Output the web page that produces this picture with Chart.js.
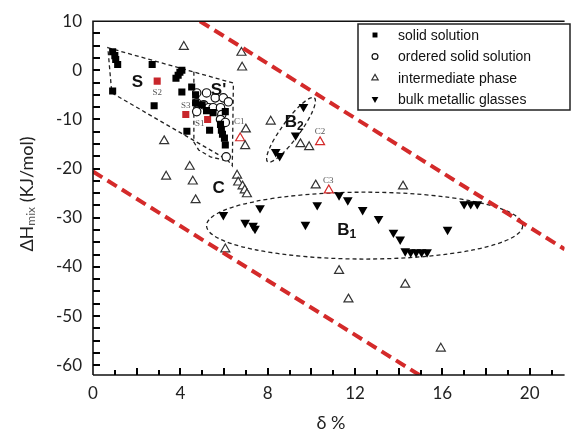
<!DOCTYPE html>
<html>
<head>
<meta charset="utf-8">
<script src="https://cdn.jsdelivr.net/npm/chart.js@4"></script>
<style>
  html, body { margin: 0; padding: 0; background: #fff; }
  #wrap { width: 571px; height: 437px; position: relative; }
</style>
</head>
<body>
<div id="wrap"><canvas id="chart"></canvas></div>
<script>
// values: [delta %, dH mix]
const solidSolution = [
  [0.90, 3.8], [1.0, 3.0], [1.04, 2.2], [1.13, 1.2], [0.90, -4.2], [2.71, 1.2], [2.8, -7.2],
  [3.8, -1.6], [3.9, -1.0], [3.98, -0.4], [4.07, 0], [4.52, -3.4], [4.07, -4.4], [4.7, -5.0],
  [4.7, -6.6], [5.0, -7.0], [5.2, -8.2], [5.5, -8.6], [6.06, -8.4], [4.3, -12.4], [5.34, -12.2],
  [5.84, -11], [5.88, -12.2], [5.93, -13], [6.02, -13.8], [6.06, -15.2]
];
const solidRed = [[2.94, -2.2], [4.25, -9], [5.25, -10]];
const orderedSolid = [
  [4.75, -4.6], [5.2, -4.6], [5.6, -5.6], [5.97, -5.6], [6.2, -6.4], [4.75, -6.6], [5.07, -7],
  [4.75, -8.4], [5.3, -7.6], [5.5, -7.6], [5.84, -7.6], [5.9, -9], [5.84, -10], [6.06, -10.6],
  [6.1, -17.6]
];
const intermediate = [
  [4.16, 4.8], [6.8, 3.6], [6.83, 0.6], [3.26, -14.4], [8.14, -10.4], [7.0, -12], [6.97, -15.4],
  [4.43, -19.6], [3.35, -21.6], [4.57, -22.6], [4.7, -26.4], [6.6, -21.4], [6.65, -22.8],
  [6.85, -23.6], [6.95, -24.4], [7.05, -25.2], [9.5, -15], [9.9, -15.6], [10.2, -23.4],
  [14.2, -23.6], [6.06, -36.4], [11.27, -40.8], [14.3, -43.6], [11.7, -46.6], [15.93, -56.6]
];
const intermediateRed = [[6.74, -13.8], [10.4, -14.6], [10.8, -24.4]];
const metallicGlass = [
  [9.64, -7.4], [9.28, -13.2], [8.37, -16.6], [8.55, -17.4],
  [5.97, -29.4], [7.65, -28], [6.97, -31], [7.33, -31.6], [7.42, -32.2], [9.73, -31.4],
  [10.27, -27.4], [11.27, -25.4], [11.67, -26.4], [12.35, -28.4], [13.08, -30.2], [13.76, -33],
  [14.07, -34.4], [14.3, -36.8], [14.55, -37], [14.8, -37], [15.05, -37], [15.3, -37],
  [16.24, -32.4], [17.0, -27.2], [17.3, -27.2], [17.6, -27.2]
];
const upperBound = [[4.9, 10], [21.6, -36.4]];
const lowerBound = [[0, -20.6], [14.95, -62]];

// region outlines
const regionS = [[0.68, 4.6], [6.43, -2.6], [6.38, -19.4], [6.15, -18.2], [0.86, -4.6]];
const regionSp = [[4.62, -0.3], [4.62, -14.6], [4.84, -16.2], [5.38, -17.6], [6.1, -18.4]];
const ellipseB1 = { cx: 12.44, cy: -31.6, rx: 7.24, ry: 6.8 };
const ellipseB2 = { x1: 10.14, y1: -5.6, x2: 8.0, y2: -18.6, minor: 9 };

const bigLabels = [
  ["S", "", 2.04, -2.4], ["S'", "", 5.75, -4], ["C", "", 5.75, -24],
  ["B", "2", 9.2, -10.6], ["B", "1", 11.6, -32.6]
];
const smallLabels = [
  ["S2", 2.94, -4.6], ["S3", 4.25, -7.2], ["S1", 4.89, -10.8],
  ["C1", 6.7, -10.4], ["C2", 10.4, -12.4], ["C3", 10.77, -22.4]
];

const legendNames = ["solid solution", "ordered solid solution", "intermediate phase", "bulk metallic glasses"];
const xTickLabels = [0, 4, 8, 12, 16, 20];
const yTickLabels = [10, 0, -10, -20, -30, -40, -50, -60];
const xTickMarks = [1, 2, 3, 4, 5, 6, 7, 8, 9, 10, 11, 12, 13, 14, 15, 16, 17, 18, 19, 20, 21];
const yTickMarks = [7.5, 5, 2.5, 0, -2.5, -5, -7.5, -10, -12.5, -15, -17.5, -20, -22.5, -25,
  -27.5, -30, -32.5, -35, -37.5, -40, -42.5, -45, -47.5, -50, -52.5, -55, -57.5, -60];

const pts = (arr) => arr.map(([x, y]) => ({ x, y }));
const RED = "#d42a2a";
const FONT = "Lato, 'Open Sans', sans-serif";

const datasets = [
  { label: "upper", data: pts(upperBound), showLine: true, borderColor: RED, borderWidth: 4,
    borderDash: [11, 6], pointRadius: 0 },
  { label: "lower", data: pts(lowerBound), showLine: true, borderColor: RED, borderWidth: 4,
    borderDash: [11, 6], pointRadius: 0 },
  { label: legendNames[0], data: pts(solidSolution), pointStyle: "rect", pointRadius: 5,
    backgroundColor: "#000", borderColor: "#000", borderWidth: 0 },
  { label: "red ss", data: pts(solidRed), pointStyle: "rect", pointRadius: 5,
    backgroundColor: "#c8262b", borderColor: "#c8262b", borderWidth: 0 },
  { label: legendNames[1], data: pts(orderedSolid), pointStyle: "circle", pointRadius: 4.2,
    backgroundColor: "#fff", borderColor: "#111", borderWidth: 1.2 },
  { label: legendNames[2], data: pts(intermediate), pointStyle: "triangle", pointRadius: 5.2,
    backgroundColor: "#fff", borderColor: "#333", borderWidth: 1.2 },
  { label: "red ip", data: pts(intermediateRed), pointStyle: "triangle", pointRadius: 5.2,
    backgroundColor: "#fff", borderColor: RED, borderWidth: 1.2 },
  { label: legendNames[3], data: pts(metallicGlass), pointStyle: "triangle", rotation: 180,
    pointRadius: 5.6, backgroundColor: "#000", borderColor: "#000", borderWidth: 0 }
];

// tick marks point into the plot, so they are drawn here
const inwardTicks = {
  id: "inwardTicks",
  afterDraw(chart) {
    const { ctx, chartArea: ca, scales: { x, y } } = chart;
    ctx.save();
    ctx.fillStyle = "#000";
    xTickMarks.forEach((v) => {
      const p = Math.round(x.getPixelForValue(v));
      const len = v % 2 === 0 ? 7 : 5;
      ctx.fillRect(p - 1, Math.round(ca.bottom) - len, 2, len);
    });
    yTickMarks.forEach((v) => {
      const p = Math.round(y.getPixelForValue(v));
      ctx.fillRect(Math.round(ca.left), p - 1, 7, 2);
    });
    ctx.restore();
  }
};

const decor = {
  id: "decor",
  beforeDatasetsDraw(chart) {
    const { ctx, scales: { x, y } } = chart;
    const px = (v) => x.getPixelForValue(v), py = (v) => y.getPixelForValue(v);
    ctx.save();
    ctx.strokeStyle = "#222";
    ctx.lineWidth = 1.3;
    ctx.setLineDash([4, 3]);
    ctx.beginPath();
    regionS.forEach(([a, b], i) => i ? ctx.lineTo(px(a), py(b)) : ctx.moveTo(px(a), py(b)));
    ctx.closePath();
    ctx.stroke();
    ctx.beginPath();
    regionSp.forEach(([a, b], i) => i ? ctx.lineTo(px(a), py(b)) : ctx.moveTo(px(a), py(b)));
    ctx.stroke();
    // B1
    ctx.beginPath();
    ctx.ellipse(px(ellipseB1.cx), py(ellipseB1.cy),
      px(ellipseB1.cx + ellipseB1.rx) - px(ellipseB1.cx),
      py(ellipseB1.cy - ellipseB1.ry) - py(ellipseB1.cy), 0, 0, Math.PI * 2);
    ctx.stroke();
    // B2
    const ax = px(ellipseB2.x1), ay = py(ellipseB2.y1), bx = px(ellipseB2.x2), by = py(ellipseB2.y2);
    ctx.beginPath();
    ctx.ellipse((ax + bx) / 2, (ay + by) / 2, Math.hypot(ax - bx, ay - by) / 2, ellipseB2.minor,
      Math.atan2(ay - by, ax - bx), 0, Math.PI * 2);
    ctx.stroke();
    ctx.restore();
  },
  afterDatasetsDraw(chart) {
    const { ctx, scales: { x, y } } = chart;
    ctx.save();
    ctx.textAlign = "center";
    ctx.textBaseline = "middle";
    ctx.fillStyle = "#111";
    bigLabels.forEach(([t, sub, a, b]) => {
      ctx.font = "bold 17px 'Liberation Sans', Arial, sans-serif";
      const cx = x.getPixelForValue(a), cy = y.getPixelForValue(b);
      if (!sub) { ctx.fillText(t, cx, cy); return; }
      const w = ctx.measureText(t).width;
      ctx.textAlign = "left";
      ctx.fillText(t, cx - w / 2 - 3, cy);
      ctx.font = "bold 12px 'Liberation Sans', Arial, sans-serif";
      ctx.fillText(sub, cx + w / 2 - 3, cy + 4);
      ctx.textAlign = "center";
    });
    ctx.font = "9px 'Liberation Serif', serif";
    ctx.fillStyle = "#555";
    smallLabels.forEach(([t, a, b]) => ctx.fillText(t, x.getPixelForValue(a), y.getPixelForValue(b)));
    ctx.restore();
  },
  afterDraw(chart) {
    const { ctx, chartArea: ca } = chart;
    ctx.save();
    ctx.setLineDash([]);
    ctx.strokeStyle = "#111";

    // frame
    ctx.lineWidth = 1.6;
    ctx.beginPath();
    ctx.moveTo(ca.left, ca.bottom); ctx.lineTo(ca.left, ca.top); ctx.lineTo(ca.right, ca.top);
    ctx.moveTo(ca.left, ca.bottom); ctx.lineTo(ca.right, ca.bottom);
    ctx.stroke();

    // axis titles
    ctx.fillStyle = "#222";
    ctx.textBaseline = "middle";
    ctx.font = "18px " + FONT;
    ctx.textAlign = "center";
    ctx.fillText("δ %", 331, 423);
    ctx.translate(27, 194);
    ctx.rotate(-Math.PI / 2);
    const parts = [["ΔH", "18px", 0, "#222"], ["mix", "12px", 4, "#555"], [" (KJ/mol)", "18px", 0, "#222"]];
    let total = 0;
    parts.forEach(([t, f]) => { ctx.font = f + " " + FONT; total += ctx.measureText(t).width; });
    let cur = -total / 2;
    ctx.textAlign = "left";
    parts.forEach(([t, f, dy, c]) => {
      ctx.font = f + " " + FONT;
      ctx.fillStyle = c;
      ctx.fillText(t, cur, dy);
      cur += ctx.measureText(t).width;
    });
    ctx.setTransform(1, 0, 0, 1, 0, 0);

    // legend
    const lx = 358, ly = 24, lw = 212, lh = 86;
    ctx.fillStyle = "#fff";
    ctx.fillRect(lx, ly, lw, lh);
    ctx.strokeStyle = "#222";
    ctx.lineWidth = 1.5;
    ctx.strokeRect(lx, ly, lw, lh);
    ctx.font = "14px 'Liberation Sans', Arial, sans-serif";
    ctx.textBaseline = "middle";
    const rows = [35, 56.5, 78, 99];
    const legendSets = legendNames.map((n) => chart.data.datasets.find((d) => d.label === n));
    legendSets.forEach((ds, i) => {
      const sy = rows[i];
      ctx.fillStyle = "#111";
      ctx.textAlign = "left";
      ctx.fillText(ds.label, 398, sy + 1);
      ctx.fillStyle = ds.backgroundColor;
      ctx.strokeStyle = ds.borderColor;
      ctx.lineWidth = ds.borderWidth || 1;
      Chart.helpers.drawPoint(ctx, {
        pointStyle: ds.pointStyle, rotation: ds.rotation || 0, radius: ds.pointRadius * 0.7,
        borderWidth: ds.borderWidth
      }, 375, sy);
    });
    ctx.restore();
  }
};

new Chart(document.getElementById("chart"), {
  type: "scatter",
  data: { datasets },
  options: {
    responsive: true,
    maintainAspectRatio: false,
    animation: false,
    layout: { padding: { top: 15, right: 0, left: 0, bottom: 0 } },
    plugins: { legend: { display: false }, tooltip: { enabled: false } },
    scales: {
      x: {
        type: "linear", min: 0, max: 21.6,
        afterFit: (s) => { s.height = 62; },
        afterBuildTicks: (s) => { s.ticks = xTickLabels.map((value) => ({ value })); },
        grid: { display: false, drawTicks: false },
        border: { display: false },
        ticks: {
          autoSkip: false, maxRotation: 0, padding: 8,
          color: "#222", font: { family: FONT, size: 17 }
        }
      },
      y: {
        type: "linear", min: -62, max: 10,
        afterFit: (s) => { s.width = 93; },
        afterBuildTicks: (s) => { s.ticks = yTickLabels.map((value) => ({ value })); },
        grid: { display: false, drawTicks: false },
        border: { display: false },
        ticks: {
          autoSkip: false, padding: 11,
          color: "#222", font: { family: FONT, size: 17 }
        }
      }
    }
  },
  plugins: [decor, inwardTicks]
});
</script>
</body>
</html>
